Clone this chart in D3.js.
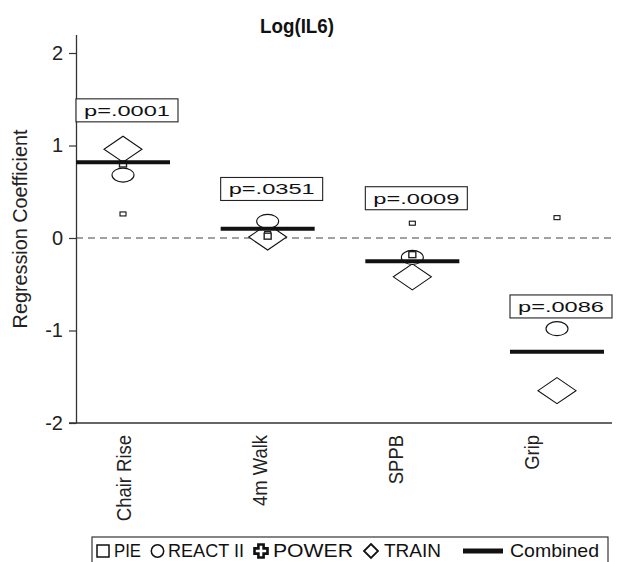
<!DOCTYPE html>
<html>
<head>
<meta charset="utf-8">
<script src="https://cdn.jsdelivr.net/npm/d3@7"></script>
<style>
  html, body { margin: 0; padding: 0; background: #fff; }
  svg { display: block; font-family: "Liberation Sans", Arial, sans-serif; }
</style>
</head>
<body>
<svg id="chart" width="618" height="562"></svg>
<script>
// ---- data ----
const categories = ["Chair Rise", "4m Walk", "SPPB", "Grip"];
const pieValues      = [0.26, 0.05, 0.16, 0.22];
const reactValues    = [0.68, 0.18, -0.21, -0.98];
const powerValues    = [0.80, 0.02, -0.18, null];
const trainValues    = [0.96, 0.01, -0.42, -1.65];
const combinedValues = [0.82, 0.10, -0.25, -1.23];
const pLabels        = ["p=.0001", "p=.0351", "p=.0009", "p=.0086"];
const pLabelValues   = [1.38, 0.53, 0.43, -0.74];
const yTicks = [-2, -1, 0, 1, 2];
const legendItems = ["PIE", "REACT II", "POWER", "TRAIN", "Combined"];
const title = "Log(IL6)";
const yTitle = "Regression Coefficient";

// ---- layout ----
const svg = d3.select("#chart");
const axisX = 76, axisBottom = 423, plotRight = 612;

const y = d3.scaleLinear().domain([-2, 2.2]).range([axisBottom, 34.5]);
const x = d3.scalePoint().domain(categories).range([123, 557]);
const xLabel = d3.scalePoint().domain(categories).range([124, 532]);

function squeeze(sel, f) {
  sel.each(function () {
    const w = this.getComputedTextLength();
    d3.select(this).attr("textLength", w * f).attr("lengthAdjust", "spacingAndGlyphs");
  });
}

// title
svg.append("text").attr("x", 297).attr("y", 33)
  .attr("text-anchor", "middle").attr("font-size", 21).attr("font-weight", "bold")
  .attr("fill", "#111").attr("textLength", 74).attr("lengthAdjust", "spacingAndGlyphs")
  .text(title);

// y axis title
svg.append("text")
  .attr("transform", `translate(27,229) rotate(-90)`)
  .attr("text-anchor", "middle").attr("font-size", 20).attr("fill", "#222")
  .text(yTitle).call(squeeze, 0.99);

// zero dashed line
svg.append("line")
  .attr("x1", axisX).attr("x2", plotRight)
  .attr("y1", y(0)).attr("y2", y(0))
  .attr("stroke", "#444").attr("stroke-width", 1.2)
  .attr("stroke-dasharray", "7,5");

// y axis
const yAxis = d3.axisLeft(y).tickValues(yTicks).tickSize(7).tickSizeOuter(0).tickPadding(6)
  .tickFormat(d => String(d));
const gy = svg.append("g").attr("transform", `translate(${axisX},0)`).call(yAxis);
gy.select(".domain").attr("stroke", "#333").attr("stroke-width", 1.3);
gy.selectAll(".tick line").attr("stroke", "#333").attr("stroke-width", 1.2);
gy.selectAll(".tick text").attr("font-size", 20).attr("fill", "#222")
  .attr("font-family", "'Liberation Sans', Arial, sans-serif");

// x axis line
svg.append("line").attr("x1", axisX - 7).attr("x2", plotRight)
  .attr("y1", axisBottom).attr("y2", axisBottom)
  .attr("stroke", "#333").attr("stroke-width", 1.3);

// category labels
svg.append("g").selectAll("text").data(categories).join("text")
  .attr("transform", d => `translate(${xLabel(d)},435) rotate(-90)`)
  .attr("text-anchor", "end").attr("dy", "0.36em")
  .attr("font-size", 20.5).attr("fill", "#222")
  .text(d => d).call(squeeze, 0.9);

// marks
const marks = svg.append("g");

// TRAIN diamonds
marks.selectAll(".train").data(categories).join("path")
  .attr("class", "train")
  .attr("d", (d, i) => {
    const cx = x(d), cy = y(trainValues[i]), w = 19, h = 13;
    return `M${cx},${cy - h}L${cx + w},${cy}L${cx},${cy + h}L${cx - w},${cy}Z`;
  })
  .attr("fill", "#fff").attr("stroke", "#111").attr("stroke-width", 1.1);

// REACT II ellipses
marks.selectAll(".react").data(categories).join("ellipse")
  .attr("class", "react")
  .attr("cx", d => x(d)).attr("cy", (d, i) => y(reactValues[i]))
  .attr("rx", 11).attr("ry", 7)
  .attr("fill", "#fff").attr("stroke", "#111").attr("stroke-width", 1.1);

// PIE squares (small)
marks.selectAll(".pie").data(categories).join("rect")
  .attr("class", "pie")
  .attr("x", d => x(d) - 3).attr("y", (d, i) => y(pieValues[i]) - 2)
  .attr("width", 6).attr("height", 4)
  .attr("fill", "#fff").attr("stroke", "#111").attr("stroke-width", 1.1);

// POWER markers (small)
const powerData = categories.map((d, i) => ({ c: d, v: powerValues[i] })).filter(p => p.v !== null);
marks.selectAll(".power").data(powerData).join("rect")
  .attr("class", "power")
  .attr("x", p => x(p.c) - 3.5).attr("y", p => y(p.v) - 3)
  .attr("width", 7).attr("height", 6)
  .attr("fill", "#fff").attr("stroke", "#222").attr("stroke-width", 1.4);

// Combined lines
marks.selectAll(".combined").data(categories).join("line")
  .attr("class", "combined")
  .attr("x1", d => x(d) - 47).attr("x2", d => x(d) + 47)
  .attr("y1", (d, i) => y(combinedValues[i])).attr("y2", (d, i) => y(combinedValues[i]))
  .attr("stroke", "#111").attr("stroke-width", 4);

// p-value boxes
const pg = svg.append("g").selectAll("g").data(categories).join("g")
  .attr("transform", (d, i) => `translate(${x(d) + 4},${y(pLabelValues[i])})`);
pg.append("rect").attr("x", -51).attr("y", -11.5).attr("width", 102).attr("height", 23)
  .attr("fill", "#fff").attr("stroke", "#222").attr("stroke-width", 1.1);
pg.append("text").attr("x", 0).attr("y", 0).attr("dy", "0.36em")
  .attr("text-anchor", "middle").attr("font-size", 15).attr("fill", "#111")
  .attr("textLength", 86).attr("lengthAdjust", "spacingAndGlyphs")
  .text((d, i) => pLabels[i]);

// legend
const lg = svg.append("g");
lg.append("rect").attr("x", 92).attr("y", 537).attr("width", 516).attr("height", 40)
  .attr("fill", "#fff").attr("stroke", "#222").attr("stroke-width", 1.1);
const baseY = 557;
const symX  = [97, 151, 254, 364, 463];
const textX = [114, 168, 273, 384, 510];
const textW = [27, 76, 80, 57, 89];
legendItems.forEach((name, i) => {
  const sy = 551;
  const cx = symX[i];
  const g = lg.append("g");
  if (name === "PIE") {
    g.append("rect").attr("x", cx).attr("y", sy - 6).attr("width", 12).attr("height", 12)
      .attr("fill", "none").attr("stroke", "#111").attr("stroke-width", 1.5);
  } else if (name === "REACT II") {
    g.append("circle").attr("cx", cx + 6.5).attr("cy", sy).attr("r", 6.2)
      .attr("fill", "none").attr("stroke", "#111").attr("stroke-width", 1.5);
  } else if (name === "POWER") {
    const a = 2.6, b = 6.5, c0 = cx + 7;
    const p = `M${c0 - a},${sy - b}H${c0 + a}V${sy - a}H${c0 + b}V${sy + a}H${c0 + a}V${sy + b}H${c0 - a}V${sy + a}H${c0 - b}V${sy - a}H${c0 - a}Z`;
    g.append("path").attr("d", p).attr("fill", "none").attr("stroke", "#111").attr("stroke-width", 2.6);
  } else if (name === "TRAIN") {
    const c0 = cx + 7;
    g.append("path").attr("d", `M${c0},${sy - 7}L${c0 + 7},${sy}L${c0},${sy + 7}L${c0 - 7},${sy}Z`)
      .attr("fill", "none").attr("stroke", "#111").attr("stroke-width", 1.8);
  } else {
    g.append("line").attr("x1", cx).attr("x2", cx + 40).attr("y1", sy).attr("y2", sy)
      .attr("stroke", "#111").attr("stroke-width", 5);
  }
  g.append("text").attr("x", textX[i]).attr("y", baseY)
    .attr("font-size", 19).attr("fill", "#111")
    .attr("textLength", textW[i]).attr("lengthAdjust", "spacingAndGlyphs")
    .text(name);
});
</script>
</body>
</html>
